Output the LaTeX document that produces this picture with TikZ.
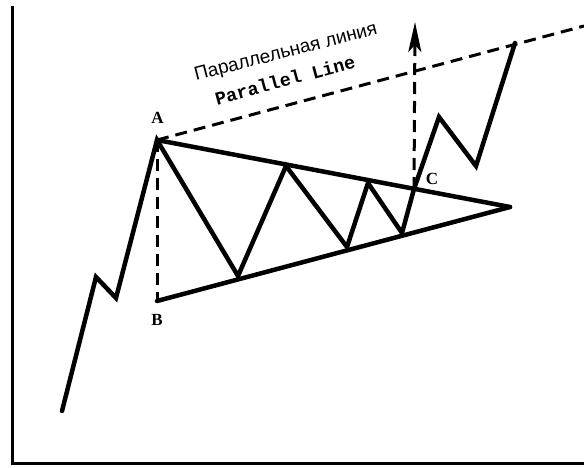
\documentclass[tikz,border=0pt]{standalone}
\usepackage{fontspec}
\setmainfont{Liberation Serif}
\newfontfamily\rusfont{Liberation Sans}
\newfontfamily\monofont{Liberation Mono}
\usetikzlibrary{arrows.meta}
\begin{document}
\begin{tikzpicture}[x=1pt,y=-1pt,
  axisline/.style={line width=3pt},
  price/.style={line width=4.5pt, line join=miter, miter limit=4, line cap=round},
  trend/.style={line width=4.5pt, line cap=round},
  dashline/.style={line width=3pt, dash pattern=on 12pt off 7pt},
  ptlabel/.style={font=\bfseries\fontsize{17}{17}\selectfont, inner sep=0pt},
  rustext/.style={font=\rusfont\fontsize{19}{19}\selectfont, inner sep=0pt, rotate=14.5},
  entext/.style={font=\monofont\bfseries\fontsize{18.5}{18.5}\selectfont, inner sep=0pt, rotate=15}]
\useasboundingbox (0,0) rectangle (584,468);
% axes
\coordinate (axtop) at (12.5,6);
\coordinate (axorigin) at (12.5,463);
\coordinate (axright) at (584,463);
\draw[axisline] (axtop) -- (axorigin) -- (axright);
% price path points
\coordinate (p0) at (62,411);
\coordinate (p1) at (96,277);
\coordinate (p2) at (116,298);
\coordinate (A) at (157,140);
\coordinate (p4) at (238,276);
\coordinate (p5) at (286,166);
\coordinate (p6) at (347,247);
\coordinate (p7) at (368,183);
\coordinate (p8) at (402,233);
\coordinate (C) at (414,189);
\coordinate (p10) at (439,117);
\coordinate (p11) at (476,166);
\coordinate (p12) at (515,43);
\coordinate (apex) at (510,207);
\coordinate (B) at (157,301);
\coordinate (edge) at (584,26);
\coordinate (tip) at (415,22);
% triangle
\draw[trend] (A) -- (apex);
\draw[trend] (B) -- (apex);
% dashed lines
\draw[dashline] (A) -- (edge);
\draw[dashline] (A) -- (B);
\draw[dashline, -{Stealth[length=30pt, width=13pt, inset=7pt]}] (C) -- (tip);
% price
\draw[price] (p0) -- (p1) -- (p2) -- (A) -- (p4) -- (p5) -- (p6) -- (p7) -- (p8) -- (C) -- (p10) -- (p11) -- (p12);
% labels
\node[ptlabel] (labA) at (157.5,118) {A};
\node[ptlabel] (labB) at (157,320) {B};
\node[ptlabel] (labC) at (432,179) {C};
\node[rustext] (rus) at (286,53) {Параллельная линия};
\node[entext] (eng) at (285,80) {Parallel Line};
\end{tikzpicture}
\end{document}
